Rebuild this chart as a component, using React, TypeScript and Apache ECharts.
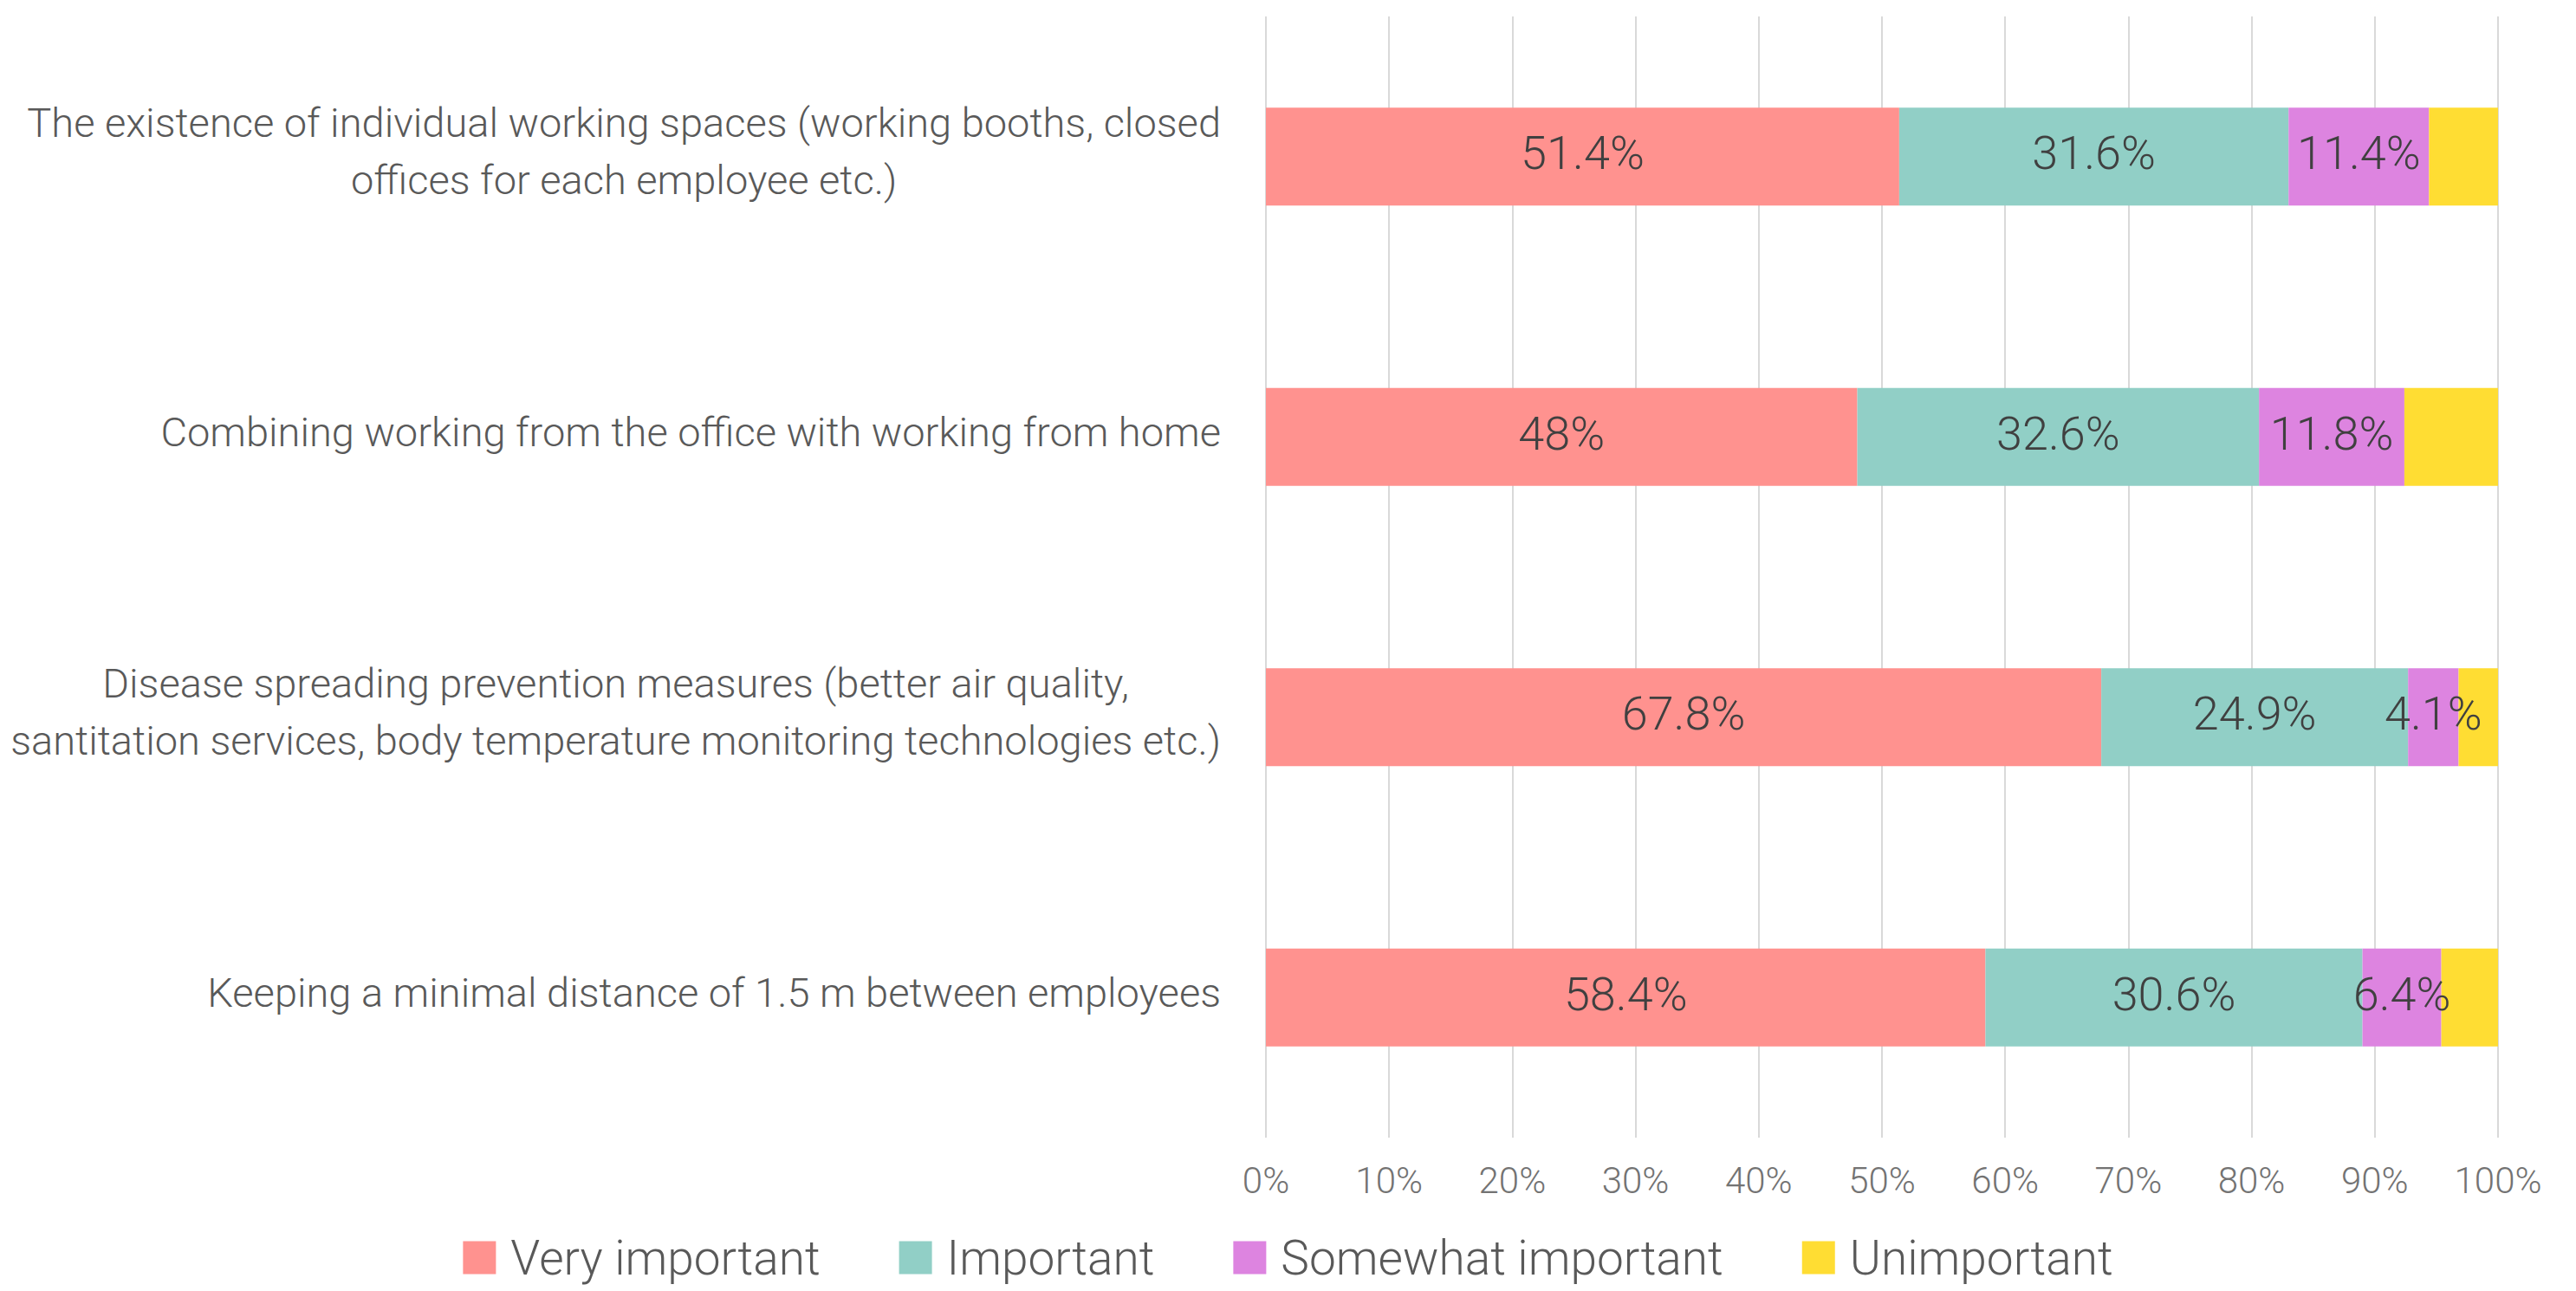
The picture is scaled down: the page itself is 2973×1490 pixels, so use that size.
import React, { useEffect, useRef } from "react";
import * as echarts from "echarts";

const categories = [
  "The existence of individual working spaces (working booths, closed\noffices for each employee etc.)",
  "Combining working from the office with working from home",
  "Disease spreading prevention measures (better air quality,\nsantitation services, body temperature monitoring technologies etc.)",
  "Keeping a minimal distance of 1.5 m between employees",
];
const seriesNames = ["Very important", "Important", "Somewhat important", "Unimportant"];
const veryImportant = [51.4, 48, 67.8, 58.4];
const important = [31.6, 32.6, 24.9, 30.6];
const somewhatImportant = [11.4, 11.8, 4.1, 6.4];
const unimportant = [5.6, 7.6, 3.2, 4.6];
const seriesColors = ["#FF928F", "#91CFC6", "#DD84E0", "#FFDD33"];
const showLabels = [true, true, true, false];

const FONT = "Roboto";

export default function App() {
  const ref = useRef<HTMLDivElement>(null);
  useEffect(() => {
    if (!ref.current) return;
    const chart = echarts.init(ref.current, undefined, { renderer: "svg" });
    const values = [veryImportant, important, somewhatImportant, unimportant];
    chart.setOption({
      animation: false,
      backgroundColor: "#ffffff",
      textStyle: { fontFamily: FONT, fontWeight: 300 },
      grid: { left: 1461, right: 90, top: 19, bottom: 177, containLabel: false },
      legend: {
        data: seriesNames,
        left: "center",
        top: 1419,
        icon: "rect",
        itemWidth: 38,
        itemHeight: 38,
        itemGap: 91,
        textStyle: {
          fontFamily: FONT,
          fontWeight: 300,
          fontSize: 55,
          color: "#595959",
          padding: [0, 0, 0, 12],
        },
      },
      xAxis: {
        type: "value",
        min: 0,
        max: 100,
        interval: 10,
        axisLine: { show: false },
        axisTick: { show: false },
        splitLine: { show: true, lineStyle: { color: "#d9d9d9", width: 2 } },
        axisLabel: {
          formatter: "{value}%",
          fontFamily: FONT,
          fontWeight: 300,
          fontSize: 42,
          color: "#737373",
          margin: 28,
        },
      },
      yAxis: {
        type: "category",
        data: categories,
        inverse: true,
        axisLine: { show: false },
        axisTick: { show: false },
        axisLabel: {
          margin: 52,
          padding: [0, 0, 12, 0],
          formatter: (v: string) => v.split("\n").map((l) => `{c|${l}}`).join("\n"),
          rich: {
            c: {
              align: "center",
              fontFamily: FONT,
              fontWeight: 300,
              fontSize: 47,
              lineHeight: 66,
              color: "#595959",
            },
          },
        },
      },
      series: seriesNames.map((name, i) => ({
        name,
        type: "bar",
        stack: "total",
        barWidth: "35%",
        data: values[i],
        itemStyle: { color: seriesColors[i] },
        label: {
          show: showLabels[i],
          position: "inside",
          formatter: "{c}%",
          fontFamily: FONT,
          fontWeight: 300,
          fontSize: 54,
          color: "#404040",
          offset: [0, -4],
        },
      })),
    });
    return () => chart.dispose();
  }, []);
  return (
    <div
      ref={ref}
      style={{ position: "fixed", left: 0, top: 0, width: 2973, height: 1490, background: "#fff" }}
    />
  );
}
